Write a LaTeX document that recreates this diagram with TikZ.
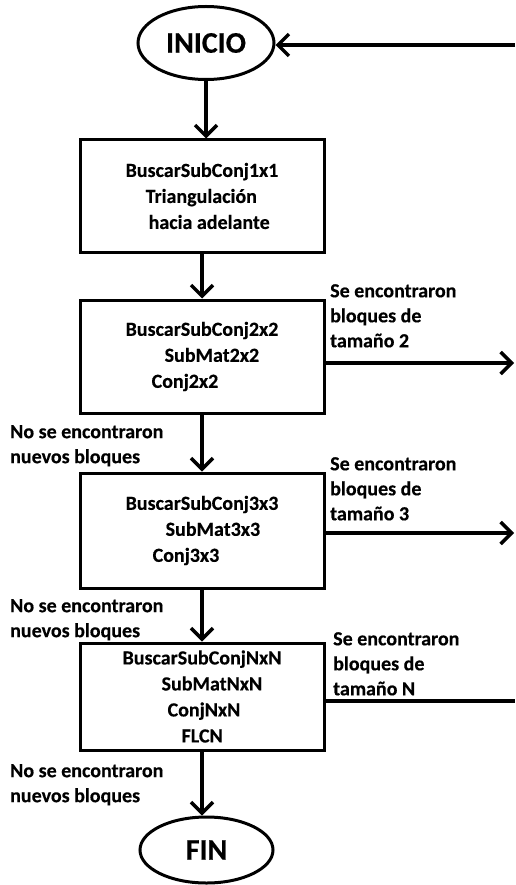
\documentclass[tikz,border=0pt]{standalone}
\usepackage{fontspec}
\setmainfont{Carlito}[BoldFeatures={FakeBold=0.4}]
\usetikzlibrary{arrows.meta,shapes.geometric}
\tikzset{
 proc/.style={draw, line width=3pt, minimum width=244pt, align=left, inner sep=0pt,
   font=\fontsize{20}{26}\selectfont\bfseries},
 term/.style={draw, ellipse, line width=3pt, inner sep=0pt,
   font=\fontsize{30}{30}\selectfont\bfseries},
 lbl/.style={anchor=north west, inner sep=0pt, align=left,
   font=\fontsize{20}{25}\selectfont\bfseries},
 flow/.style={line width=3.5pt, -{Straight Barb[length=11pt,width=22pt]}},
 plain/.style={line width=3.5pt}
}
\begin{document}
\begin{tikzpicture}[x=1pt,y=-1pt]
\useasboundingbox (0,0) rectangle (515,885);
\node[term, minimum width=136pt, minimum height=73pt] (ini) at (206,43) {INICIO};
\node[proc, minimum height=112pt] (b1) at (202,196)
  {BuscarSubConj1x1\\\hspace*{20pt}Triangulación\\\hspace*{23pt}hacia adelante};
\node[proc, minimum height=113pt] (b2) at (202,356.5)
  {BuscarSubConj2x2\\\hspace*{39pt}SubMat2x2\\\hspace*{26pt}Conj2x2};
\node[proc, minimum height=115pt] (b3) at (202,530.5)
  {BuscarSubConj3x3\\\hspace*{40pt}SubMat3x3\\\hspace*{27pt}Conj3x3};
\node[proc, minimum height=107pt] (b4) at (202,696.5)
  {BuscarSubConjNxN\\\hspace*{39pt}SubMatNxN\\\hspace*{45pt}ConjNxN\\\hspace*{59pt}FLCN};
\node[term, minimum width=133pt, minimum height=66pt] (fin) at (206.5,850) {FIN};

\node[lbl] (s2) at (330,284) {Se encontraron\\bloques de\\tamaño 2};
\node[lbl] (s3) at (330,457) {Se encontraron\\bloques de\\tamaño 3};
\node[lbl] (s4) at (333,632) {Se encontraron\\bloques de\\tamaño N};
\node[lbl] (n2) at (10,425) {No se encontraron\\nuevos bloques};
\node[lbl] (n3) at (10,599) {No se encontraron\\nuevos bloques};
\node[lbl] (n4) at (10,764) {No se encontraron\\nuevos bloques};

\coordinate (e0) at (515,45);
\coordinate (e2) at (514,363);
\coordinate (e3) at (514,533);
\coordinate (e4) at (515,701);

\draw[flow] (e0) -- (ini.east |- e0);
\draw[flow] (ini.south) -- (ini.south |- b1.north);
\draw[flow] (b1.south) -- (b2.north);
\draw[flow] (b2.south) -- (b3.north);
\draw[flow] (b3.south) -- (b4.north);
\draw[flow] (b4.south) -- (b4.south |- fin.north);
\draw[flow] (b2.east |- e2) -- (e2);
\draw[flow] (b3.east |- e3) -- (e3);
\draw[plain] (b4.east |- e4) -- (e4);
\end{tikzpicture}
\end{document}
